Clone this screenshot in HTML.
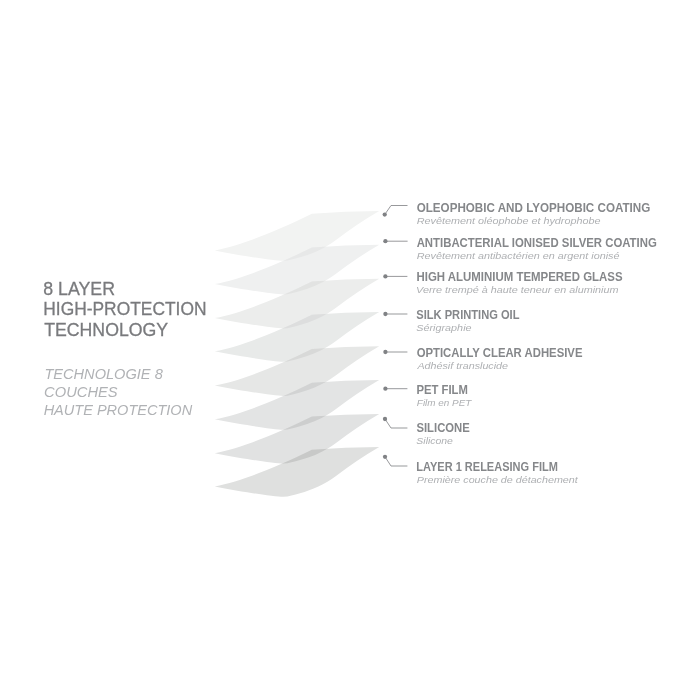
<!DOCTYPE html>
<html lang="en">
<head>
<meta charset="utf-8">
<title>8 Layer High-Protection Technology</title>
<style>
html,body{margin:0;padding:0;background:#fff;}
body{width:700px;height:700px;overflow:hidden;}
svg{display:block;will-change:transform;}
text{font-family:"Liberation Sans",sans-serif;}
.h{font-size:18.6px;fill:#797a7d;stroke:#797a7d;stroke-width:.3px;}
.i{font-size:15.2px;font-style:italic;fill:#b0b2b5;}
.l{font-size:12px;font-weight:bold;fill:#85878a;}
.soft{filter:blur(.35px);}
.s{font-size:9.7px;font-style:italic;fill:#aeb0b3;}
</style>
</head>
<body>
<svg width="700" height="700" viewBox="0 0 700 700">
<defs>
<path id="sh" d="M214.8 250.1 C240 245.8 275.5 231.2 311.9 213.5 Q345 211 379.2 210.8 Q357.6 223.3 336 239.8 C324.9 248.3 312 253.8 300 257 C294 258.6 289 260.5 283.1 260.5 C275.1 260.5 238 254.9 214.8 250.1 Z"/>
<clipPath id="nx0"><use href="#sh" y="33.6"/></clipPath>
<clipPath id="nx1"><use href="#sh" y="34.0"/></clipPath>
<clipPath id="nx2"><use href="#sh" y="33.3"/></clipPath>
<clipPath id="nx3"><use href="#sh" y="34.2"/></clipPath>
<clipPath id="nx4"><use href="#sh" y="33.8"/></clipPath>
<clipPath id="nx5"><use href="#sh" y="33.9"/></clipPath>
<clipPath id="nx6"><use href="#sh" y="33.2"/></clipPath>
</defs>
<g class="soft">
<g>
<use href="#sh" y="0.3" fill="#f2f3f2"/>
<use href="#sh" y="33.9" fill="#eff0f0"/>
<use href="#sh" y="67.9" fill="#ecedec"/>
<use href="#sh" y="101.2" fill="#e8eae9"/>
<use href="#sh" y="135.4" fill="#e6e7e6"/>
<use href="#sh" y="169.2" fill="#e3e4e4"/>
<use href="#sh" y="203.1" fill="#e1e2e2"/>
<use href="#sh" y="236.3" fill="#dfe0df"/>
</g>
<g>
<g transform="translate(0 0.3)"><use href="#sh" clip-path="url(#nx0)" fill="#e7e8e8"/></g>
<g transform="translate(0 33.9)"><use href="#sh" clip-path="url(#nx1)" fill="#e2e3e2"/></g>
<g transform="translate(0 67.9)"><use href="#sh" clip-path="url(#nx2)" fill="#dddede"/></g>
<g transform="translate(0 101.2)"><use href="#sh" clip-path="url(#nx3)" fill="#d8d9d8"/></g>
<g transform="translate(0 135.4)"><use href="#sh" clip-path="url(#nx4)" fill="#d2d3d3"/></g>
<g transform="translate(0 169.2)"><use href="#sh" clip-path="url(#nx5)" fill="#cdcece"/></g>
<g transform="translate(0 203.1)"><use href="#sh" clip-path="url(#nx6)" fill="#c8c9c8"/></g>
</g>
</g>
<g fill="none" stroke="#85878a" stroke-width="0.85">
<path d="M384.7 214.6 L391 205.5 H407.5"/>
<path d="M385.4 241.2 H407.6"/>
<path d="M385.4 276.4 H407.4"/>
<path d="M385.4 314 H407.4"/>
<path d="M385.4 352 H407.4"/>
<path d="M385.4 388.7 H407.4"/>
<path d="M385 419 L391 428 H407.4"/>
<path d="M385 456.8 L391 466 H407.4"/>
</g>
<g fill="#808285">
<circle cx="384.7" cy="214.6" r="2.15"/>
<circle cx="385.4" cy="241.2" r="2.15"/>
<circle cx="385.4" cy="276.4" r="2.15"/>
<circle cx="385.4" cy="314" r="2.15"/>
<circle cx="385.4" cy="352" r="2.15"/>
<circle cx="385.4" cy="388.7" r="2.15"/>
<circle cx="385" cy="419" r="2.15"/>
<circle cx="385" cy="456.8" r="2.15"/>
</g>
<g>
<text class="h" x="43.25" y="294.50" textLength="71.77" lengthAdjust="spacingAndGlyphs">8 LAYER</text>
<text class="h" x="43.30" y="315.10" textLength="163.16" lengthAdjust="spacingAndGlyphs">HIGH-PROTECTION</text>
<text class="h" x="44.13" y="335.70" textLength="124.02" lengthAdjust="spacingAndGlyphs">TECHNOLOGY</text>
<text class="i" x="44.39" y="378.90" textLength="118.38" lengthAdjust="spacingAndGlyphs">TECHNOLOGIE 8</text>
<text class="i" x="44.12" y="396.60" textLength="73.53" lengthAdjust="spacingAndGlyphs">COUCHES</text>
<text class="i" x="43.63" y="414.60" textLength="148.53" lengthAdjust="spacingAndGlyphs">HAUTE PROTECTION</text>
<text class="l" x="416.68" y="212.40" textLength="233.63" lengthAdjust="spacingAndGlyphs">OLEOPHOBIC AND LYOPHOBIC COATING</text>
<text class="s" x="416.78" y="224.30" textLength="183.74" lengthAdjust="spacingAndGlyphs">Revêtement oléophobe et hydrophobe</text>
<text class="l" x="416.66" y="246.80" textLength="240.14" lengthAdjust="spacingAndGlyphs">ANTIBACTERIAL IONISED SILVER COATING</text>
<text class="s" x="416.80" y="258.70" textLength="202.69" lengthAdjust="spacingAndGlyphs">Revêtement antibactérien en argent ionisé</text>
<text class="l" x="416.45" y="280.80" textLength="206.12" lengthAdjust="spacingAndGlyphs">HIGH ALUMINIUM TEMPERED GLASS</text>
<text class="s" x="416.13" y="292.70" textLength="202.33" lengthAdjust="spacingAndGlyphs">Verre trempé à haute teneur en aluminium</text>
<text class="l" x="416.29" y="318.80" textLength="103.16" lengthAdjust="spacingAndGlyphs">SILK PRINTING OIL</text>
<text class="s" x="416.28" y="330.70" textLength="55.28" lengthAdjust="spacingAndGlyphs">Sérigraphie</text>
<text class="l" x="416.68" y="356.80" textLength="165.79" lengthAdjust="spacingAndGlyphs">OPTICALLY CLEAR ADHESIVE</text>
<text class="s" x="417.41" y="368.70" textLength="90.63" lengthAdjust="spacingAndGlyphs">Adhésif translucide</text>
<text class="l" x="416.47" y="394.00" textLength="51.41" lengthAdjust="spacingAndGlyphs">PET FILM</text>
<text class="s" x="416.86" y="405.90" textLength="54.45" lengthAdjust="spacingAndGlyphs">Film en PET</text>
<text class="l" x="416.46" y="432.10" textLength="53.31" lengthAdjust="spacingAndGlyphs">SILICONE</text>
<text class="s" x="416.38" y="444.00" textLength="36.49" lengthAdjust="spacingAndGlyphs">Silicone</text>
<text class="l" x="416.27" y="470.60" textLength="141.59" lengthAdjust="spacingAndGlyphs">LAYER 1 RELEASING FILM</text>
<text class="s" x="416.80" y="482.50" textLength="160.95" lengthAdjust="spacingAndGlyphs">Première couche de détachement</text>
</g>
</svg>
</body>
</html>
